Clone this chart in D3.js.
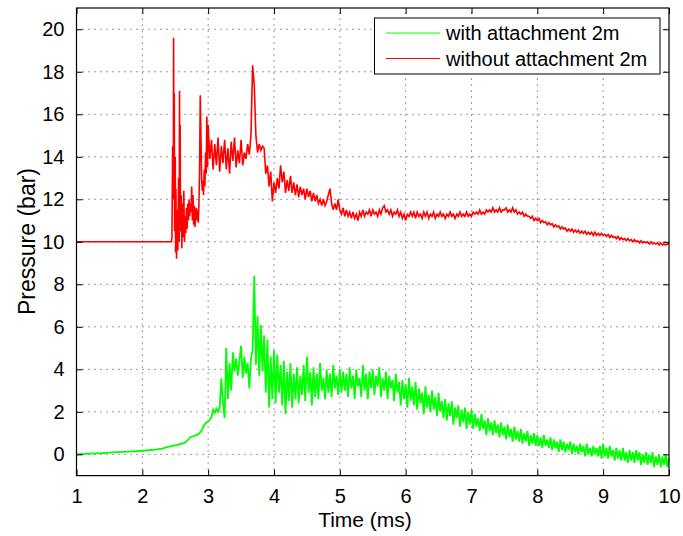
<!DOCTYPE html>
<html>
<head>
<meta charset="utf-8">
<script src="https://cdn.jsdelivr.net/npm/d3@7"></script>
<style>
  html, body { margin: 0; padding: 0; background: #fff; }
  svg { display: block; font-family: "Liberation Sans", Arial, Helvetica, sans-serif; }
</style>
</head>
<body>
<svg id="chart" width="683" height="536"></svg>
<script>
// ---------------- DATA ----------------
const xTicks = [1, 2, 3, 4, 5, 6, 7, 8, 9, 10];
const yTicks = [0, 2, 4, 6, 8, 10, 12, 14, 16, 18, 20];
const legendLabels = ["with attachment 2m", "without attachment 2m"];

// green: with attachment 2m (early smooth part as [time, value])
const greenEarly = [[1.0,0.0],[1.2,0.03],[1.4,0.06],[1.6,0.1],[1.8,0.13],[2.0,0.17],[2.2,0.22],[2.3,0.27],[2.4,0.36],[2.5,0.42],[2.6,0.5],[2.65,0.55],[2.7,0.7],[2.73,0.82],[2.8,0.88],[2.85,0.95],[2.9,1.1],[2.93,1.35],[2.96,1.45],[3.0,1.55]];
// sampled part, start 3.025 ms, every 0.025 ms
const greenStart = 3.025, greenStep = 0.025;
const greenValues = [
1.62,1.75,2.1,1.95,2.15,2.0,2.2,3.58,2.4,1.7,5.0,2.6,4.3,3.0,4.8,3.9,4.5,3.7,4.4,5.1,
3.6,4.6,3.8,4.3,3.1,4.5,4.9,8.4,4.2,6.5,3.7,6.1,3.9,5.6,2.9,5.4,2.2,4.6,2.6,4.9,
2.4,4.7,2.9,4.2,2.3,4.4,1.9,3.9,2.5,4.3,2.2,3.8,2.6,4.1,2.4,3.7,2.8,4.2,2.5,4.6,
2.9,3.9,2.3,4.1,2.7,3.8,2.6,4.3,3.0,3.6,2.6,4.0,2.9,3.8,2.7,4.2,3.1,3.7,2.8,4.0,
2.9,3.9,3.0,3.8,2.7,4.1,3.1,3.7,2.6,4.0,3.2,3.6,2.7,4.2,3.0,3.8,2.6,3.9,3.1,4.0,
2.8,3.7,3.2,4.1,2.7,3.6,3.0,3.9,2.6,3.7,3.1,3.5,2.5,3.8,2.9,3.4,2.3,3.5,2.6,3.3,
2.2,3.6,2.5,3.2,2.3,3.4,2.1,3.1,2.4,2.9,1.9,3.2,2.2,2.8,2.0,3.0,2.1,2.7,1.8,2.9,
2.0,2.5,1.7,2.6,1.6,2.4,1.8,2.5,1.4,2.2,1.7,2.3,1.3,2.1,1.5,2.2,1.2,2.0,1.4,2.1,
1.2,1.9,1.3,1.7,1.1,1.9,1.2,1.6,0.9,1.7,1.1,1.5,0.9,1.6,1.0,1.4,0.8,1.5,0.9,1.3,
0.7,1.4,0.8,1.2,0.6,1.3,0.7,1.1,0.6,1.2,0.5,1.0,0.6,1.1,0.4,0.9,0.5,1.0,0.4,0.9,
0.4,0.8,0.3,0.9,0.4,0.7,0.3,0.8,0.2,0.7,0.3,0.6,0.1,0.7,0.2,0.6,0.1,0.5,0.2,0.6,
0.0,0.5,0.1,0.4,0.0,0.5,0.1,0.4,-0.1,0.5,0.0,0.3,-0.1,0.4,0.0,0.3,-0.1,0.4,-0.2,0.5,
-0.1,0.3,-0.2,0.4,-0.1,0.2,-0.3,0.3,-0.2,0.2,-0.3,0.3,-0.3,0.1,-0.4,0.2,-0.3,0.1,-0.4,0.2,
-0.3,0.1,-0.5,0.0,-0.4,0.1,-0.5,0.0,-0.4,0.1,-0.6,-0.1,-0.5,0.0,-0.6,-0.1,-0.5,0.0,-0.6,-0.2
];

// red: without attachment 2m (early part as [time, value])
const redEarly = [[1.0,10],[2.44,10],[2.45,10.2],[2.46,14.5],[2.47,12],[2.475,19.6],[2.48,13],[2.485,17],[2.49,10.5],[2.50,14],[2.505,9.5],[2.51,12.5],[2.52,9.2],[2.53,11.5],[2.54,9.6],[2.55,13],[2.56,10],[2.565,17.1],[2.57,12],[2.575,15.5],[2.58,10.5],[2.59,12.2],[2.60,9.7],[2.61,11.8],[2.62,10.2],[2.63,12.4],[2.64,10],[2.65,11.2],[2.66,10.4],[2.67,11.6],[2.68,10.6],[2.69,11.8],[2.70,11.0],[2.71,12.0],[2.72,11.2],[2.73,11.8],[2.74,11.4],[2.75,12.6],[2.76,11.0],[2.77,12.2],[2.78,10.8],[2.79,11.7],[2.80,10.7],[2.81,11.4],[2.82,11.6],[2.83,11.0],[2.84,11.5],[2.85,10.9],[2.86,11.8],[2.87,13.5],[2.88,16.9],[2.89,15],[2.90,13],[2.91,12.4],[2.92,12.9],[2.93,12.2],[2.94,13.4],[2.95,12.6],[2.96,14.2],[2.97,13.2],[2.98,15.9],[2.99,13.5],[3.0,15.5]];
const redStart = 3.025, redStep = 0.025;
const redValues = [
13.9,14.8,13.4,14.6,13.6,14.9,13.3,14.5,13.7,14.8,13.4,14.4,13.2,14.7,13.8,14.9,13.5,14.3,13.7,14.8,
13.6,14.2,13.9,14.6,14.1,15.0,18.3,17.4,15.0,14.2,14.6,14.3,14.5,14.4,13.2,13.6,12.6,13.3,11.9,12.8,
12.3,13.0,12.5,13.6,12.8,13.3,12.3,12.9,12.4,13.1,12.3,12.8,12.2,12.7,12.1,12.6,12.2,12.5,12.0,12.5,
12.1,12.4,11.9,12.3,11.9,12.2,11.8,12.0,11.7,12.0,11.7,11.9,12.2,12.5,11.8,11.5,11.8,11.5,12.0,11.5,
11.3,11.6,11.2,11.5,11.2,11.4,11.1,11.4,11.1,11.3,11.0,11.4,11.2,11.5,11.2,11.4,11.3,11.5,11.2,11.5,
11.3,11.4,11.2,11.5,11.3,11.6,11.7,11.4,11.5,11.3,11.5,11.2,11.4,11.3,11.5,11.2,11.4,11.1,11.3,11.0,
11.3,11.2,11.4,11.2,11.4,11.1,11.4,11.2,11.3,11.1,11.4,11.2,11.4,11.1,11.3,11.2,11.4,11.1,11.3,11.2,
11.4,11.2,11.3,11.1,11.3,11.2,11.4,11.2,11.3,11.1,11.3,11.2,11.4,11.2,11.3,11.2,11.4,11.2,11.3,11.2,
11.4,11.3,11.4,11.3,11.5,11.3,11.4,11.3,11.5,11.4,11.5,11.4,11.6,11.4,11.5,11.4,11.6,11.4,11.5,11.5,
11.6,11.4,11.5,11.4,11.6,11.4,11.5,11.3,11.4,11.3,11.4,11.2,11.3,11.2,11.2,11.1,11.2,11.0,11.1,11.0,
11.1,10.9,11.0,10.9,10.95,10.8,10.9,10.8,10.85,10.7,10.8,10.7,10.75,10.6,10.7,10.6,10.65,10.5,10.6,10.5,
10.6,10.45,10.55,10.45,10.55,10.4,10.5,10.4,10.5,10.35,10.45,10.35,10.45,10.3,10.45,10.3,10.4,10.3,10.4,10.3,
10.35,10.25,10.35,10.2,10.3,10.2,10.25,10.15,10.25,10.1,10.2,10.1,10.15,10.05,10.15,10.05,10.1,10.0,10.1,10.0,
10.05,9.95,10.05,9.95,10.0,9.95,10.0,9.9,10.0,9.9,9.95,9.9,9.95,9.85,9.95,9.85,9.9,9.85,9.9,9.88
];

// ---------------- CHART ----------------
const svg = d3.select("#chart");
const L = 76.5, R = 669, T = 8, B = 475.6;
const x = d3.scaleLinear().domain([1, 10]).range([L, R]);
const y = d3.scaleLinear().domain([-1, 21]).range([B, T]);

function buildPoints(early, start, step, values) {
  const pts = early.map(d => [d[0], d[1]]);
  values.forEach((v, i) => pts.push([start + i * step, v]));
  return pts;
}
const greenPts = buildPoints(greenEarly, greenStart, greenStep, greenValues);
const redPts = buildPoints(redEarly, redStart, redStep, redValues);

const series = [
  { label: legendLabels[0], color: "#00ff00", pts: greenPts, w: 1.8 },
  { label: legendLabels[1], color: "#ff0000", pts: redPts, w: 1.6 }
];

// grid
const grid = svg.append("g").attr("stroke", "#222").attr("stroke-width", 0.9)
  .attr("stroke-dasharray", "1,5");
xTicks.forEach(t => {
  if (t === 1 || t === 10) return;
  grid.append("line").attr("x1", x(t)).attr("x2", x(t)).attr("y1", B).attr("y2", T);
});
yTicks.forEach(t => {
  grid.append("line").attr("x1", L).attr("x2", R).attr("y1", y(t)).attr("y2", y(t));
});

// lines
const line = d3.line().x(d => x(d[0])).y(d => y(d[1]));
svg.append("g").selectAll("path").data(series).join("path")
  .attr("d", d => line(d.pts))
  .attr("fill", "none")
  .attr("stroke", d => d.color)
  .attr("stroke-width", d => d.w)
  .attr("stroke-linejoin", "miter");

// axes (ticks inward)
const fontSize = 20;
const axB = svg.append("g").attr("transform", `translate(0,${B})`)
  .call(d3.axisBottom(x).tickValues(xTicks).tickSize(-6).tickPadding(13).tickFormat(d3.format("d")));
const axT = svg.append("g").attr("transform", `translate(0,${T})`)
  .call(d3.axisTop(x).tickValues(xTicks).tickSize(-6).tickFormat(""));
const axL = svg.append("g").attr("transform", `translate(${L},0)`)
  .call(d3.axisLeft(y).tickValues(yTicks).tickSize(-6).tickPadding(12).tickFormat(d3.format("d")));
const axRr = svg.append("g").attr("transform", `translate(${R},0)`)
  .call(d3.axisRight(y).tickValues(yTicks).tickSize(-6).tickFormat(""));
[axB, axT, axL, axRr].forEach(a => {
  a.select(".domain").remove();
  a.selectAll(".tick line").attr("stroke", "#000").attr("stroke-width", 1);
  a.selectAll(".tick text").attr("fill", "#000").attr("font-size", fontSize)
    .attr("font-family", "Liberation Sans, Arial, sans-serif");
});
svg.append("rect").attr("x", L).attr("y", T).attr("width", R - L).attr("height", B - T)
  .attr("fill", "none").attr("stroke", "#000").attr("stroke-width", 1.2);

// axis labels
svg.append("text").attr("x", 365).attr("y", 527).attr("text-anchor", "middle")
  .attr("font-size", 21).attr("fill", "#000").text("Time (ms)");
svg.append("text").attr("transform", `translate(35,241.5) rotate(-90)`)
  .attr("text-anchor", "middle").attr("font-size", 23).attr("fill", "#000").text("Pressure (bar)");

// legend
const lg = svg.append("g");
lg.append("rect").attr("x", 374.5).attr("y", 18).attr("width", 285.5).attr("height", 56)
  .attr("fill", "#fff").attr("stroke", "#000").attr("stroke-width", 1);
series.forEach((s, i) => {
  const yy = 33 + i * 25.5;
  lg.append("line").attr("x1", 386).attr("x2", 440).attr("y1", yy).attr("y2", yy)
    .attr("stroke", s.color).attr("stroke-width", 1);
  lg.append("text").attr("x", 446).attr("y", yy).attr("dy", "0.36em")
    .attr("font-size", 20).attr("fill", "#000").text(s.label);
});
</script>
</body>
</html>
